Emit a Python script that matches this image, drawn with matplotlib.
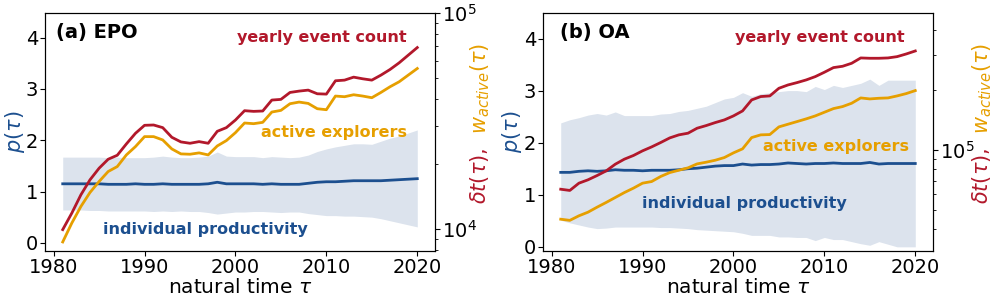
import numpy as np
import matplotlib.pyplot as plt

years = np.arange(1981, 2021)

# (a) EPO
epo_events = [9900, 11810, 14360, 16850, 19070, 20990, 21900, 24710, 27680, 30150,
              30250, 29410, 26530, 25250, 24890, 25330, 24890, 28280, 29410, 31900,
              35240, 34990, 35120, 39480, 39760, 42820, 43440, 43900, 42220, 42070,
              48500, 48840, 50420, 49540, 48840, 51510, 54710, 58730, 63720, 69150]
epo_active = [8680, 10620, 12680, 14720, 16550, 18410, 19410, 21980, 24020, 26720,
              26720, 25790, 23430, 22220, 22140, 22460, 21980, 24190, 25610, 27880,
              30900, 30680, 31120, 34740, 35360, 37960, 38640, 38090, 35990, 35610,
              41200, 40910, 41780, 41200, 40480, 42820, 45490, 47970, 51510, 55300]
epo_p = [1.15, 1.15, 1.15, 1.15, 1.15, 1.14, 1.14, 1.14, 1.15, 1.14,
         1.14, 1.15, 1.14, 1.14, 1.14, 1.14, 1.15, 1.18, 1.15, 1.15,
         1.15, 1.15, 1.14, 1.15, 1.14, 1.14, 1.14, 1.16, 1.18, 1.19,
         1.19, 1.20, 1.21, 1.21, 1.21, 1.21, 1.22, 1.23, 1.24, 1.25]
epo_hi = [1.67, 1.67, 1.67, 1.67, 1.67, 1.66, 1.67, 1.66, 1.66, 1.66,
          1.67, 1.69, 1.67, 1.66, 1.66, 1.67, 1.69, 1.77, 1.69, 1.68,
          1.68, 1.68, 1.66, 1.68, 1.67, 1.66, 1.67, 1.71, 1.78, 1.83,
          1.87, 1.90, 1.93, 1.93, 1.92, 1.98, 2.04, 2.08, 2.14, 2.20]
epo_lo = [0.64, 0.64, 0.64, 0.63, 0.63, 0.62, 0.62, 0.62, 0.62, 0.62,
          0.61, 0.62, 0.61, 0.62, 0.61, 0.61, 0.59, 0.56, 0.58, 0.60,
          0.60, 0.61, 0.61, 0.60, 0.59, 0.60, 0.60, 0.57, 0.55, 0.53,
          0.53, 0.52, 0.52, 0.51, 0.50, 0.47, 0.43, 0.39, 0.35, 0.31]

# (b) OA
oa_events = [63400, 62500, 68000, 70700, 74300, 78400, 84700, 89800, 93700, 98900,
             103500, 108900, 114900, 119000, 121300, 128500, 132500, 137200, 141500, 148200,
             157000, 178300, 185400, 186800, 204100, 212100, 218000, 224800, 233600, 245700,
             259300, 263300, 272600, 290000, 288900, 288900, 290000, 294400, 303600, 314400]
oa_active = [44800, 44200, 46600, 48600, 51500, 54400, 57600, 61000, 64200, 68000,
             69300, 73500, 76900, 79000, 81200, 85000, 86700, 88700, 91500, 96600,
             101200, 115300, 119000, 119400, 130500, 134600, 138800, 143200, 148200, 154600,
             161300, 165100, 171600, 182500, 180400, 181800, 182500, 186800, 191900, 198700]
oa_p = [1.43, 1.43, 1.45, 1.46, 1.45, 1.46, 1.48, 1.47, 1.47, 1.46,
        1.47, 1.47, 1.47, 1.48, 1.50, 1.51, 1.53, 1.55, 1.56, 1.56,
        1.59, 1.57, 1.58, 1.58, 1.59, 1.61, 1.60, 1.59, 1.60, 1.60,
        1.61, 1.60, 1.60, 1.60, 1.62, 1.59, 1.60, 1.60, 1.60, 1.60]
oa_hi = [2.38, 2.44, 2.48, 2.53, 2.56, 2.53, 2.59, 2.52, 2.52, 2.52,
         2.52, 2.55, 2.56, 2.60, 2.62, 2.66, 2.70, 2.77, 2.84, 2.87,
         2.96, 2.89, 2.94, 2.96, 2.98, 3.00, 3.00, 2.98, 3.08, 3.02,
         3.10, 3.06, 3.10, 3.14, 3.22, 3.10, 3.20, 3.20, 3.20, 3.20]
oa_lo = [0.51, 0.46, 0.42, 0.38, 0.35, 0.36, 0.38, 0.38, 0.38, 0.38,
         0.38, 0.37, 0.37, 0.36, 0.35, 0.33, 0.32, 0.31, 0.30, 0.29,
         0.26, 0.22, 0.22, 0.22, 0.19, 0.19, 0.18, 0.18, 0.12, 0.18,
         0.14, 0.14, 0.10, 0.06, 0.03, 0.10, 0.05, 0.00, 0.00, 0.00]

RED = "#b2182b"
ORANGE = "#e69f00"
BLUE = "#1c4f8f"
BAND = "#dce3ed"

plt.rcParams["font.size"] = 14


def draw_panel(ax, title, events, active, p, lo, hi, pylim, rylim, pos):
    ax.fill_between(years, lo, hi, color=BAND, lw=0)
    ax.plot(years, p, color=BLUE, lw=2)
    ax.set_ylim(*pylim)
    ax.set_yticks([0, 1, 2, 3, 4])
    ax.set_xticks([1980, 1990, 2000, 2010, 2020])
    ax.tick_params(pad=1.5)
    ax.set_xlabel(r"natural time $\tau$", fontsize=14.5, labelpad=1)
    ax.set_ylabel(r"$p(\tau)$", color=BLUE, fontsize=15)
    ax.yaxis.set_label_coords(pos["plab"], 0.5)

    ax2 = ax.twinx()
    ax2.plot(years, events, color=RED, lw=2)
    ax2.plot(years, active, color=ORANGE, lw=2)
    ax2.set_yscale("log")
    ax2.set_ylim(*rylim)
    ax2.tick_params(pad=1.5)

    ax.text(pos["title"][0], pos["title"][1], title, transform=ax.transAxes,
            fontsize=14, fontweight="bold", ha="left", va="center")
    ax.text(pos["events"][0], pos["events"][1], "yearly event count", color=RED,
            transform=ax.transAxes, fontsize=11.5, fontweight="bold", ha="right", va="center")
    ax.text(pos["active"][0], pos["active"][1], "active explorers", color=ORANGE,
            transform=ax.transAxes, fontsize=11.5, fontweight="bold", ha="right", va="center")
    ax.text(pos["prod"][0], pos["prod"][1], "individual productivity", color=BLUE,
            transform=ax.transAxes, fontsize=11.5, fontweight="bold", ha="center", va="center")

    # two-coloured right axis label, sharing one baseline
    rx = pos["rlab"]
    ax.text(rx, 0.435, r"$\delta t(\tau)$,", color=RED, transform=ax.transAxes,
            fontsize=15, rotation=90, rotation_mode="anchor", ha="right", va="baseline")
    ax.text(rx, 0.49, r"$w_{active}(\tau)$", color=ORANGE, transform=ax.transAxes,
            fontsize=15, rotation=90, rotation_mode="anchor", ha="left", va="baseline")
    return ax2


fig = plt.figure(figsize=(9.96, 3.03), dpi=100)
ax_a = fig.add_axes([45 / 996, 52 / 303, 390 / 996, 238 / 303])
ax_b = fig.add_axes([543 / 996, 52 / 303, 390 / 996, 238 / 303])

draw_panel(ax_a, "(a) EPO", epo_events, epo_active, epo_p, epo_lo, epo_hi,
           (-0.16, 4.48), (7880, 1e5),
           {"title": (0.028, 0.916), "events": (0.928, 0.895),
            "active": (0.928, 0.50), "prod": (0.41, 0.092),
            "plab": -0.047, "rlab": 1.131})
draw_panel(ax_b, "(b) OA", oa_events, oa_active, oa_p, oa_lo, oa_hi,
           (-0.08, 4.49), (31000, 488000),
           {"title": (0.044, 0.92), "events": (0.928, 0.895),
            "active": (0.938, 0.44), "prod": (0.517, 0.20),
            "plab": -0.05, "rlab": 1.142})

fig.savefig("out.png", dpi=100)
